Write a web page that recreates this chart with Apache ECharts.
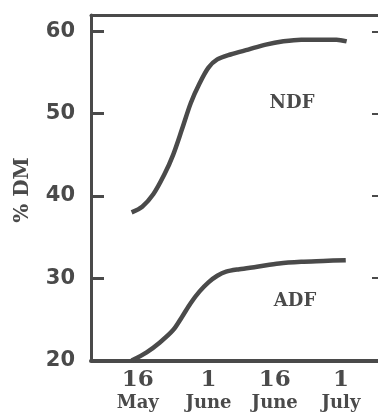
<!DOCTYPE html>
<html><head><meta charset="utf-8">
<script src="https://cdn.jsdelivr.net/npm/echarts@6/dist/echarts.min.js"></script>
<style>html,body{margin:0;padding:0;background:#fff}#c{width:378px;height:415px}</style>
</head><body><div id="c"></div>
<script>
// x values: days after 16 May
const ndfDays = [-1.4, 1.0, 3.5, 6.0, 8.0, 10.0, 12.0, 14.0, 16.0, 18.0, 21.0, 25.0, 29.0, 33.0, 37.0, 41.0, 45.0, 47.3];
const ndfVals = [38.0, 38.7, 40.2, 42.6, 45.0, 48.1, 51.3, 53.7, 55.6, 56.6, 57.2, 57.8, 58.4, 58.8, 59.0, 59.0, 59.0, 58.8];
const adfDays = [-1.4, 2.0, 5.0, 8.0, 10.0, 12.0, 14.0, 16.0, 18.0, 20.0, 23.0, 27.0, 32.0, 37.0, 42.0, 47.1];
const adfVals = [20.0, 21.0, 22.2, 23.7, 25.3, 27.0, 28.4, 29.5, 30.3, 30.8, 31.1, 31.4, 31.8, 32.0, 32.1, 32.2];
const tickDays = [0, 16, 31, 46];
const tickDayLabels = ['16', '1', '16', '1'];
const tickMonthLabels = ['May', 'June', 'June', 'July'];
const yTicks = [20, 30, 40, 50, 60];
const rightTicks = [30, 40, 50, 60];
const seriesNames = ['NDF', 'ADF'];

const ink = '#4a4a4a';
const pair = (xs, ys) => xs.map((x, i) => [x, ys[i]]);
const chart = echarts.init(document.getElementById('c'), null, {renderer: 'canvas'});
chart.setOption({
  backgroundColor: '#ffffff',
  animation: false,
  grid: {left: 91, right: -1, top: 15, bottom: 54.5, show: false},
  xAxis: [{
    type: 'value', min: -10.6, max: 54.4,
    axisLine: {show: true, onZero: false, lineStyle: {color: ink, width: 4}},
    axisTick: {show: false},
    splitLine: {show: false},
    axisLabel: {
      customValues: tickDays,
      margin: 7,
      formatter: function (v) {
        const i = tickDays.indexOf(v);
        return i < 0 ? '' : '{d|' + tickDayLabels[i] + '}\n{m|' + tickMonthLabels[i] + '}';
      },
      rich: {
        d: {fontFamily: 'DejaVu Serif', fontWeight: 'bold', fontSize: 23, color: ink, lineHeight: 25, align: 'center'},
        m: {fontFamily: 'DejaVu Serif', fontWeight: 'bold', fontSize: 18, color: ink, lineHeight: 22, align: 'center'}
      }
    }
  }, {
    type: 'value', min: -10.6, max: 54.4, position: 'top',
    axisLine: {show: true, onZero: false, lineStyle: {color: ink, width: 3}},
    axisTick: {show: false}, axisLabel: {show: false}, splitLine: {show: false}
  }],
  yAxis: [{
    type: 'value', min: 20, max: 62,
    axisLine: {show: true, onZero: false, lineStyle: {color: ink, width: 3}},
    axisTick: {show: true, inside: true, length: 13, customValues: yTicks, lineStyle: {color: ink, width: 3}},
    splitLine: {show: false},
    axisLabel: {customValues: yTicks, margin: 16, fontFamily: 'DejaVu Sans', fontWeight: 'bold', fontSize: 21, color: ink}
  }, {
    type: 'value', min: 20, max: 62, position: 'right',
    axisLine: {show: false, onZero: false},
    axisTick: {show: true, inside: true, length: 6, customValues: rightTicks, lineStyle: {color: ink, width: 2}},
    axisLabel: {show: false},
    splitLine: {show: false}
  }],
  series: [
    {name: seriesNames[0], type: 'line', data: pair(ndfDays, ndfVals), smooth: 0.3, showSymbol: false,
     lineStyle: {color: ink, width: 4.5}},
    {name: seriesNames[1], type: 'line', data: pair(adfDays, adfVals), smooth: 0.3, showSymbol: false,
     lineStyle: {color: ink, width: 4.5}}
  ],
  graphic: [
    {type: 'text', x: 23, y: 190, rotation: Math.PI / 2,
     style: {text: '% DM', fontFamily: 'DejaVu Serif', fontWeight: 'bold', fontSize: 20, fill: ink, align: 'center', verticalAlign: 'middle'}},
    {type: 'text', x: 292, y: 103,
     style: {text: seriesNames[0], fontFamily: 'DejaVu Serif', fontWeight: 'bold', fontSize: 18, fill: ink, align: 'center', verticalAlign: 'middle'}},
    {type: 'text', x: 295, y: 301,
     style: {text: seriesNames[1], fontFamily: 'DejaVu Serif', fontWeight: 'bold', fontSize: 18, fill: ink, align: 'center', verticalAlign: 'middle'}}
  ]
});
</script></body></html>
